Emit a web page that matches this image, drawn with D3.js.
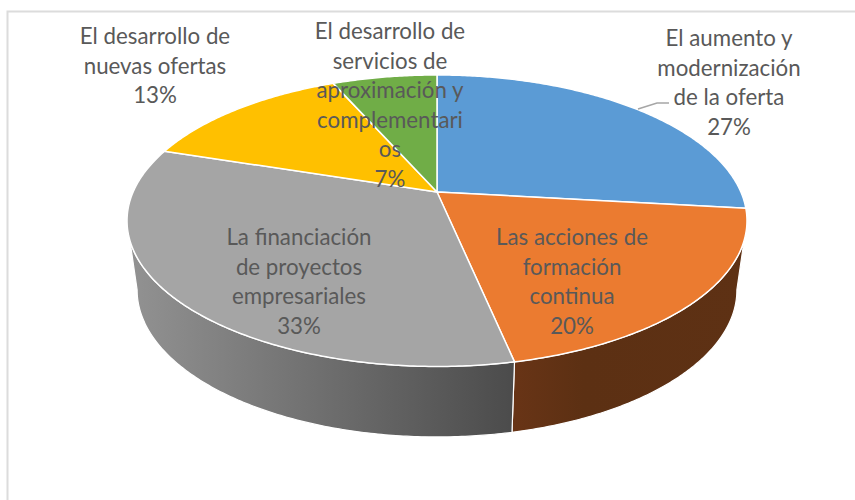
<!DOCTYPE html>
<html>
<head>
<meta charset="utf-8">
<script src="https://d3js.org/d3.v7.min.js"></script>
<style>
    html, body { margin: 0; padding: 0; background: white; }
    svg { display: block; }
</style>
</head>
<body>
<script>
var categories = [
    "El aumento y modernización de la oferta",
    "Las acciones de formación continua",
    "La financiación de proyectos empresariales",
    "El desarrollo de nuevas ofertas",
    "El desarrollo de servicios de aproximación y complementarios"
];
var values = [26.8, 19.9, 33.3, 13.4, 6.6];
var topColors = ["#5b9bd5", "#eb7b30", "#a5a5a5", "#ffc000", "#70ad47"];
var labelLines = [
    ["El aumento y", "modernización", "de la oferta"],
    ["Las acciones de", "formación", "continua"],
    ["La financiación", "de proyectos", "empresariales"],
    ["El desarrollo de", "nuevas ofertas"],
    ["El desarrollo de", "servicios de", "aproximación y", "complementari", "os"]
];
var labelX = [729, 572, 299, 155, 390];
var labelY = [46, 245, 245, 44, 39];

var width = 855;
var height = 500;
var lineHeight = 29.6;

var svg = d3.select("body").append("svg")
    .attr("width", width)
    .attr("height", height);

// frame of the original chart, only top and left are in the picture
svg.append("path")
    .attr("d", "M7.5,500V11.5H855")
    .attr("fill", "none")
    .attr("stroke", "#dcdcdc")
    .attr("stroke-width", 2);

var defs = svg.append("defs");

var grayWall = defs.append("linearGradient")
    .attr("id", "grayWall")
    .attr("gradientUnits", "userSpaceOnUse")
    .attr("x1", 130).attr("x2", 515).attr("y1", 0).attr("y2", 0);
grayWall.append("stop").attr("offset", 0).attr("stop-color", "#929292");
grayWall.append("stop").attr("offset", 1).attr("stop-color", "#4b4b4b");

var brownWall = defs.append("linearGradient")
    .attr("id", "brownWall")
    .attr("gradientUnits", "userSpaceOnUse")
    .attr("x1", 515).attr("x2", 745).attr("y1", 0).attr("y2", 0);
brownWall.append("stop").attr("offset", 0).attr("stop-color", "#683416");
brownWall.append("stop").attr("offset", 0.3).attr("stop-color", "#5c3013");
brownWall.append("stop").attr("offset", 1).attr("stop-color", "#5e3114");

// perspective: the disc is a circle seen from the front, so the centre sits above the ellipse middle
var persp = 0.197;

function project(angle, plane) {
    var u = Math.sin(angle);
    var v = -Math.cos(angle);
    var w = 1 - persp * v;
    return [plane.x + plane.b * u / w, plane.y + plane.a * v / w];
}

var topPlane = { x: 437, y: 192, a: 140.1, b: 303.9 };
var bottomPlane = { x: 437, y: 261, a: 141.3, b: 294 };

var slices = d3.pie().sort(null)(values);
var line = d3.line();

function arcPoints(a0, a1, plane) {
    var steps = Math.max(2, Math.ceil((a1 - a0) / 0.01));
    return d3.range(steps + 1).map(function (i) {
        return project(a0 + (a1 - a0) * i / steps, plane);
    });
}

// side walls, only the part facing the viewer
var wallStart = Math.PI - Math.acos(persp);
var wallEnd = Math.PI + Math.acos(persp);
var wallFill = [null, "url(#brownWall)", "url(#grayWall)", null, null];

slices.forEach(function (d, i) {
    var a0 = Math.max(d.startAngle, wallStart);
    var a1 = Math.min(d.endAngle, wallEnd);
    if (a1 <= a0) return;
    var pts = arcPoints(a0, a1, topPlane).concat(arcPoints(a0, a1, bottomPlane).reverse());
    svg.append("path")
        .attr("d", line(pts) + "Z")
        .attr("fill", wallFill[i])
        .attr("stroke", "white")
        .attr("stroke-width", 1.2)
        .attr("stroke-linejoin", "round");
});

// top of the pie
slices.forEach(function (d, i) {
    var pts = [[topPlane.x, topPlane.y]].concat(arcPoints(d.startAngle, d.endAngle, topPlane));
    svg.append("path")
        .attr("d", line(pts) + "Z")
        .attr("fill", topColors[i])
        .attr("stroke", "white")
        .attr("stroke-width", 1.5)
        .attr("stroke-linejoin", "round")
        .append("title").text(categories[i]);
});

// leader line of the first label
svg.append("path")
    .attr("d", "M638,109L657,103H669")
    .attr("fill", "none")
    .attr("stroke", "#a6a6a6")
    .attr("stroke-width", 1.6);

var percent = d3.format(".0f");

slices.forEach(function (d, i) {
    var lines = labelLines[i].concat(percent(d.value) + "%");
    var label = svg.append("text")
        .attr("text-anchor", "middle")
        .attr("font-family", "Lato, 'Open Sans', sans-serif")
        .attr("font-size", 22.3)
        .attr("fill", "#595959");
    lines.forEach(function (t, j) {
        label.append("tspan")
            .attr("x", labelX[i])
            .attr("y", labelY[i] + j * lineHeight)
            .text(t);
    });
});
</script>
</body>
</html>
